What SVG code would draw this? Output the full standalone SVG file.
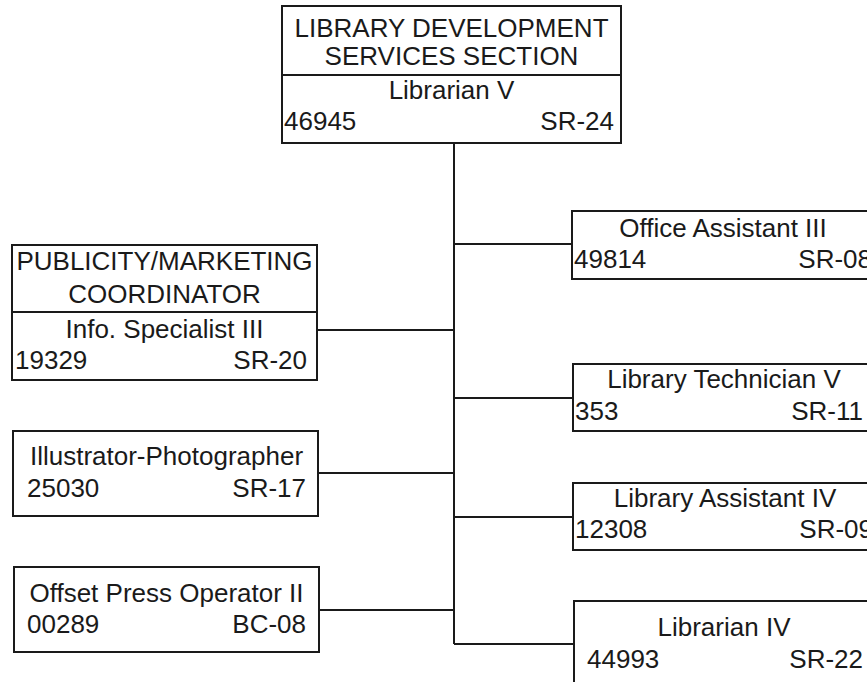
<svg xmlns="http://www.w3.org/2000/svg" width="867" height="682" viewBox="0 0 867 682">
<style>
.box{fill:#fff;stroke:#1a1a1a;stroke-width:2}
.ln{stroke:#1a1a1a;stroke-width:2;fill:none}
text{font-family:"Liberation Sans",Arial,sans-serif;font-size:26px;fill:#1a1a1a}
.c{text-anchor:middle}
.r{text-anchor:end}
</style>
<rect width="867" height="682" fill="#fff"/>
<g id="connectors">
<path class="ln" d="M454 143 V644"/>
<path class="ln" d="M317 330 H454"/>
<path class="ln" d="M318 473 H454"/>
<path class="ln" d="M319 610 H454"/>
<path class="ln" d="M454 244 H572"/>
<path class="ln" d="M454 398 H573"/>
<path class="ln" d="M454 517 H573"/>
<path class="ln" d="M454 644 H574"/>
</g>
<g id="library-development">
<rect class="box" x="282" y="6" width="339" height="137"/>
<line class="ln" x1="282" y1="75" x2="621" y2="75"/>
<text class="c" x="451.5" y="37">LIBRARY DEVELOPMENT</text>
<text class="c" x="451.5" y="65">SERVICES SECTION</text>
<text class="c" x="451.5" y="99">Librarian V</text>
<text x="284" y="130">46945</text>
<text class="r" x="614" y="130">SR-24</text>
</g>
<g id="publicity">
<rect class="box" x="12" y="245" width="305" height="135"/>
<line class="ln" x1="12" y1="312" x2="317" y2="312"/>
<text class="c" x="164.5" y="270">PUBLICITY/MARKETING</text>
<text class="c" x="164.5" y="303">COORDINATOR</text>
<text class="c" x="164.5" y="338">Info. Specialist III</text>
<text x="15" y="369">19329</text>
<text class="r" x="307" y="369">SR-20</text>
</g>
<g id="illustrator">
<rect class="box" x="13" y="431" width="305" height="85"/>
<text class="c" x="166.5" y="465">Illustrator-Photographer</text>
<text x="27" y="497">25030</text>
<text class="r" x="306" y="497">SR-17</text>
</g>
<g id="offset">
<rect class="box" x="14" y="567" width="305" height="85"/>
<text class="c" x="166.5" y="602">Offset Press Operator II</text>
<text x="27" y="633">00289</text>
<text class="r" x="306" y="633">BC-08</text>
</g>
<g id="office-assistant">
<rect class="box" x="572" y="211" width="304" height="68"/>
<text class="c" x="723" y="237">Office Assistant III</text>
<text x="574" y="268">49814</text>
<text class="r" x="872" y="268">SR-08</text>
</g>
<g id="library-technician">
<rect class="box" x="573" y="364" width="304" height="67"/>
<text class="c" x="724" y="388">Library Technician V</text>
<text x="575" y="420">353</text>
<text class="r" x="863" y="420">SR-11</text>
</g>
<g id="library-assistant">
<rect class="box" x="573" y="483" width="304" height="67"/>
<text class="c" x="725" y="507">Library Assistant IV</text>
<text x="575" y="538">12308</text>
<text class="r" x="873" y="538">SR-09</text>
</g>
<g id="librarian-iv">
<rect class="box" x="574" y="601" width="304" height="95"/>
<text class="c" x="724" y="636">Librarian IV</text>
<text x="587" y="668">44993</text>
<text class="r" x="863" y="668">SR-22</text>
</g>
</svg>
